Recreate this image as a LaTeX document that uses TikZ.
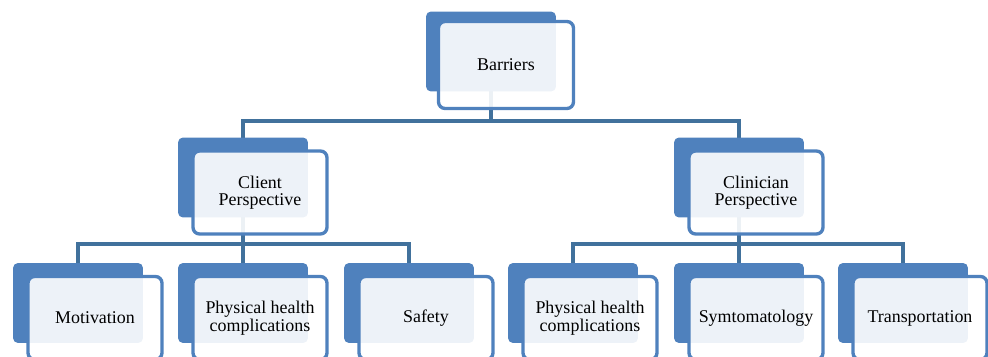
\documentclass[tikz,border=0pt]{standalone}
\usepackage{fontspec}
\setmainfont{Liberation Serif}
\usepackage{tikz}

\definecolor{accentblue}{HTML}{4F81BD}
\definecolor{linkblue}{HTML}{41719C}

\pgfdeclarelayer{background}
\pgfsetlayers{background,main}

\begin{document}
\begin{tikzpicture}[
    x=0.02cm, y=-0.02cm,
    backbox/.style={rectangle, rounded corners=0.1cm, minimum width=2.6cm, minimum height=1.6cm, inner sep=0pt, fill=accentblue},
    frontbox/.style={rectangle, rounded corners=0.13cm, minimum width=2.68cm, minimum height=1.66cm, inner sep=0pt, draw=accentblue, line width=1.9pt, fill=white, fill opacity=0.9, text opacity=1, align=center, font=\fontsize{10.2pt}{10pt}\selectfont},
    link/.style={draw=linkblue, line width=2.2pt}
]
\useasboundingbox (0,0) rectangle (988,357);
\clip (0,0) rectangle (988,357);

% Back tiles of each level
\node[backbox] (barriers-back) at (491,51.5) {};
\node[backbox] (client-back) at (243,177.5) {};
\node[backbox] (clinician-back) at (739,177.5) {};
\node[backbox] (motivation-back) at (78,303) {};
\node[backbox] (client-health-back) at (243,303) {};
\node[backbox] (safety-back) at (409,303) {};
\node[backbox] (clinician-health-back) at (573,303) {};
\node[backbox] (symptoms-back) at (739,303) {};
\node[backbox] (transport-back) at (903,303) {};

% Front tiles with the labels
\node[frontbox, minimum width=2.7cm, minimum height=1.74cm] (barriers) at ([xshift=0.3cm, yshift=-0.27cm]barriers-back.center) {Barriers};
\node[frontbox] (client) at ([xshift=0.34cm, yshift=-0.3cm]client-back.center) {Client\\Perspective};
\node[frontbox] (clinician) at ([xshift=0.34cm, yshift=-0.3cm]clinician-back.center) {Clinician\\Perspective};
\node[frontbox] (motivation) at ([xshift=0.34cm, yshift=-0.3cm]motivation-back.center) {Motivation};
\node[frontbox] (client-health) at ([xshift=0.34cm, yshift=-0.3cm]client-health-back.center) {Physical health\\complications};
\node[frontbox] (safety) at ([xshift=0.34cm, yshift=-0.3cm]safety-back.center) {Safety};
\node[frontbox] (clinician-health) at ([xshift=0.34cm, yshift=-0.3cm]clinician-health-back.center) {Physical health\\complications};
\node[frontbox] (symptoms) at ([xshift=0.34cm, yshift=-0.3cm]symptoms-back.center) {Symtomatology};
\node[frontbox] (transport) at ([xshift=0.34cm, yshift=-0.3cm]transport-back.center) {Transportation};

% Connectors behind the tiles
\coordinate (upper-bar) at (491,121);
\coordinate (client-bar) at (243,244);
\coordinate (clinician-bar) at (739,244);
\begin{pgfonlayer}{background}
\draw[link] (barriers-back.center) -- (upper-bar) -| (client-back.center);
\draw[link] (upper-bar) -| (clinician-back.center);
\draw[link] (client-back.center) -- (client-bar) -| (motivation-back.center);
\draw[link] (client-bar) -- (client-health-back.center);
\draw[link] (client-bar) -| (safety-back.center);
\draw[link] (clinician-back.center) -- (clinician-bar) -| (clinician-health-back.center);
\draw[link] (clinician-bar) -- (symptoms-back.center);
\draw[link] (clinician-bar) -| (transport-back.center);
\end{pgfonlayer}

\end{tikzpicture}
\end{document}
